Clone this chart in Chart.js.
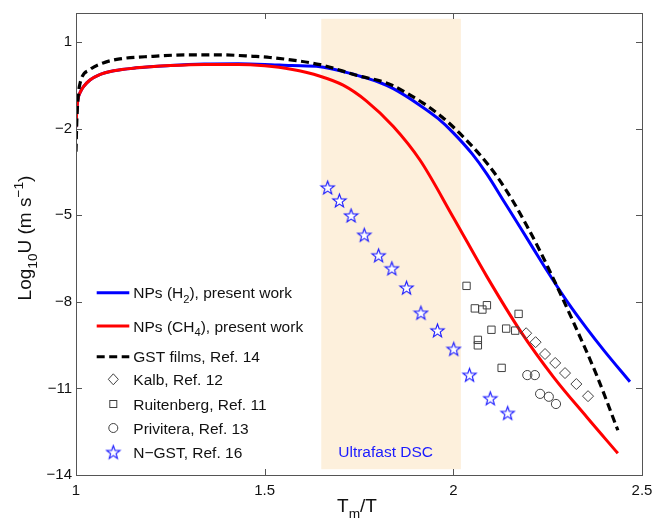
<!DOCTYPE html>
<html><head><meta charset="utf-8">
<script src="https://cdn.jsdelivr.net/npm/chart.js@4/dist/chart.umd.min.js"></script>
<style>html,body{margin:0;padding:0;background:#fff}canvas{display:block}</style>
</head><body>
<canvas id="c" width="654" height="518"></canvas>
<script>
// ---- data ----
const xTicks = [1, 1.5, 2, 2.5];
const yTicks = [-14, -11, -8, -5, -2, 1];

const h2X = [1.000, 1.002, 1.005, 1.011, 1.02, 1.037, 1.06, 1.1, 1.16, 1.25, 1.34, 1.43, 1.50, 1.57, 1.647, 1.70, 1.753, 1.80, 1.841, 1.912, 1.96, 2.0, 2.05, 2.089, 2.133, 2.177, 2.212, 2.248, 2.30, 2.354, 2.40, 2.468];
const h2Y = [-1.95, -1.4, -1.0, -0.75, -0.55, -0.32, -0.15, 0.0, 0.10, 0.18, 0.23, 0.24, 0.22, 0.18, 0.14, 0.0, -0.19, -0.38, -0.62, -1.2, -1.66, -2.15, -2.88, -3.58, -4.5, -5.42, -6.16, -6.92, -7.96, -8.93, -9.7, -10.77];

const ch4X = [1.000, 1.002, 1.005, 1.011, 1.02, 1.037, 1.06, 1.1, 1.16, 1.25, 1.34, 1.43, 1.50, 1.57, 1.647, 1.708, 1.77, 1.841, 1.912, 2.0, 2.089, 2.177, 2.265, 2.354, 2.436];
const ch4Y = [-1.95, -1.4, -1.0, -0.75, -0.55, -0.32, -0.15, 0.0, 0.10, 0.18, 0.22, 0.22, 0.17, 0.05, -0.19, -0.5, -1.05, -1.93, -3.1, -5.08, -7.13, -9.0, -10.6, -12.0, -13.25];

const gstX = [1.000, 1.002, 1.005, 1.011, 1.037, 1.072, 1.116, 1.204, 1.292, 1.38, 1.469, 1.514, 1.647, 1.753, 1.80, 1.841, 1.88, 1.92, 1.97, 2.018, 2.071, 2.115, 2.155, 2.194, 2.23, 2.256, 2.318, 2.38, 2.436];
const gstY = [-2.8, -1.8, -1.0, -0.42, 0.04, 0.27, 0.41, 0.50, 0.55, 0.55, 0.50, 0.46, 0.21, -0.19, -0.33, -0.52, -0.8, -1.12, -1.6, -2.18, -2.92, -3.65, -4.45, -5.35, -6.25, -6.95, -8.7, -10.55, -12.45];

const kalbX = [2.193, 2.218, 2.243, 2.270, 2.296, 2.326, 2.357];
const kalbY = [-9.09, -9.40, -9.81, -10.12, -10.47, -10.85, -11.27];

const ruitX = [2.035, 2.057, 2.077, 2.089, 2.173, 2.101, 2.140, 2.164, 2.065, 2.065, 2.128];
const ruitY = [-7.45, -8.23, -8.27, -8.12, -8.42, -8.97, -8.93, -9.00, -9.32, -9.51, -10.29];

const privX = [2.196, 2.216, 2.230, 2.253, 2.272];
const privY = [-10.54, -10.54, -11.19, -11.29, -11.54];

const ngstX = [1.667, 1.698, 1.729, 1.764, 1.802, 1.837, 1.876, 1.914, 1.958, 2.001, 2.043, 2.098, 2.144];
const ngstY = [-4.04, -4.49, -5.01, -5.68, -6.39, -6.84, -7.51, -8.38, -8.99, -9.63, -10.53, -11.34, -11.85];

const shadeX = [1.65, 2.02];
const shadeY = [-13.8, 1.8];
const shadeLabel = 'Ultrafast DSC';

const legendLabels = [
  [['NPs (H',0],['2',1],['), present work',0]],
  [['NPs (CH',0],['4',1],['), present work',0]],
  [['GST films, Ref. 14',0]],
  [['Kalb, Ref. 12',0]],
  [['Ruitenberg, Ref. 11',0]],
  [['Privitera, Ref. 13',0]],
  [['N\u2212GST, Ref. 16',0]]
];

// ---- helpers ----
const FONT = '"Liberation Sans", Arial, Helvetica, sans-serif';
const zip = (xs, ys) => xs.map((x, i) => ({x: x, y: ys[i]}));
const MARK = '#404040';
const STARC = '#1414ff';

function makeStar() {
  const c = document.createElement('canvas');
  c.width = 17; c.height = 17;
  const g = c.getContext('2d');
  g.beginPath();
  for (let i = 0; i < 10; i++) {
    const r = i % 2 ? 2.9 : 7.0;
    const a = -Math.PI / 2 + i * Math.PI / 5;
    const px = 8.5 + r * Math.cos(a), py = 9.2 + r * Math.sin(a);
    if (i) g.lineTo(px, py); else g.moveTo(px, py);
  }
  g.closePath();
  g.fillStyle = '#fff'; g.fill();
  g.strokeStyle = STARC; g.lineWidth = 1.1; g.stroke();
  return c;
}
const starImg = makeStar();

function drawRich(ctx, parts, x, y, size, align) {
  const widths = parts.map(p => {
    ctx.font = (p[1] ? size * 0.72 : size) + 'px ' + FONT;
    return ctx.measureText(p[0]).width;
  });
  const total = widths.reduce((a, b) => a + b, 0);
  let cx = align === 'center' ? x - total / 2 : x;
  ctx.textBaseline = 'alphabetic';
  ctx.textAlign = 'left';
  parts.forEach((p, i) => {
    ctx.font = (p[1] ? size * 0.72 : size) + 'px ' + FONT;
    let dy = 0;
    if (p[1] === 1) dy = size * 0.32;
    if (p[1] === 2) dy = -size * 0.42;
    ctx.fillText(p[0], cx, y + dy);
    cx += widths[i];
  });
}

const fmt = v => String(v).replace('-', '\u2212');

// ---- plugins ----
const shadePlugin = {
  id: 'shade',
  beforeDatasetsDraw(chart) {
    const {ctx, scales: {x, y}} = chart;
    const x0 = x.getPixelForValue(shadeX[0]), x1 = x.getPixelForValue(shadeX[1]);
    const y0 = y.getPixelForValue(shadeY[1]), y1 = y.getPixelForValue(shadeY[0]);
    ctx.save();
    ctx.fillStyle = 'rgb(253,240,220)';
    ctx.fillRect(x0, y0, x1 - x0, y1 - y0);
    ctx.fillStyle = '#1a1aff';
    ctx.font = '15.5px ' + FONT;
    ctx.textBaseline = 'middle';
    ctx.textAlign = 'left';
    ctx.fillText(shadeLabel, x0 + 17, y1 - 17);
    ctx.restore();
  }
};

const legendPlugin = {
  id: 'customLegend',
  afterDatasetsDraw(chart) {
    const {ctx, chartArea: ca} = chart;
    const rows = [279.7, 313, 343.7, 366.3, 391, 415, 439.7];
    const lx0 = ca.left + 20.7, lx1 = ca.left + 53.3, mx = ca.left + 37.3, tx = ca.left + 57.3;
    ctx.save();
    rows.forEach((ry, i) => {
      const yy = ca.top + ry;
      ctx.lineWidth = 3;
      ctx.setLineDash([]);
      if (i === 0 || i === 1 || i === 2) {
        ctx.strokeStyle = i === 0 ? '#0000ff' : (i === 1 ? '#ff0000' : '#000');
        if (i === 2) ctx.setLineDash([8, 4.5]);
        ctx.beginPath(); ctx.moveTo(lx0, yy); ctx.lineTo(lx1, yy); ctx.stroke();
        ctx.setLineDash([]);
      } else if (i === 3) {
        ctx.lineWidth = 1; ctx.strokeStyle = MARK;
        ctx.beginPath(); ctx.moveTo(mx, yy - 5.5); ctx.lineTo(mx + 5, yy); ctx.lineTo(mx, yy + 5.5); ctx.lineTo(mx - 5, yy); ctx.closePath(); ctx.stroke();
      } else if (i === 4) {
        ctx.lineWidth = 1; ctx.strokeStyle = MARK;
        ctx.strokeRect(mx - 3.5, yy - 3.5, 7, 7);
      } else if (i === 5) {
        ctx.lineWidth = 1; ctx.strokeStyle = MARK;
        ctx.beginPath(); ctx.arc(mx, yy, 4.5, 0, Math.PI * 2); ctx.stroke();
      } else {
        ctx.drawImage(starImg, mx - 8.5, yy - 9.2);
      }
      ctx.fillStyle = '#111';
      drawRich(ctx, legendLabels[i], tx, yy + 5.5, 15.5, 'left');
    });
    ctx.restore();
  }
};

const framePlugin = {
  id: 'frame',
  afterDraw(chart) {
    const {ctx, chartArea: ca, scales: {x, y}} = chart;
    ctx.save();
    ctx.strokeStyle = '#555';
    ctx.lineWidth = 1;
    ctx.strokeRect(Math.round(ca.left) + 0.5, Math.round(ca.top) + 0.5, Math.round(ca.right - ca.left), Math.round(ca.bottom - ca.top));
    const tl = 6;
    ctx.beginPath();
    xTicks.forEach(v => {
      const px = Math.round(x.getPixelForValue(v)) + 0.5;
      ctx.moveTo(px, ca.bottom); ctx.lineTo(px, ca.bottom - tl);
      ctx.moveTo(px, ca.top); ctx.lineTo(px, ca.top + tl);
    });
    yTicks.forEach(v => {
      const py = Math.round(y.getPixelForValue(v)) + 0.5;
      ctx.moveTo(ca.left, py); ctx.lineTo(ca.left + tl, py);
      ctx.moveTo(ca.right, py); ctx.lineTo(ca.right - tl, py);
    });
    ctx.stroke();
    // axis titles
    ctx.fillStyle = '#111';
    drawRich(ctx, [['T',0],['m',1],['/T',0]], (ca.left + ca.right) / 2 - 2, 511.5, 19, 'center');
    ctx.translate(31, (ca.top + ca.bottom) / 2 - 6);
    ctx.rotate(-Math.PI / 2);
    drawRich(ctx, [['Log',0],['10',1],['U (m s',0],['\u22121',2],[')',0]], 0, 0, 19, 'center');
    ctx.restore();
  }
};

// ---- chart ----
new Chart(document.getElementById('c'), {
  type: 'scatter',
  data: {
    datasets: [
      {label: 'NPs (H2), present work', data: zip(h2X, h2Y), showLine: true, borderColor: '#0000ff', borderWidth: 3, pointRadius: 0, cubicInterpolationMode: 'monotone', order: 4},
      {label: 'NPs (CH4), present work', data: zip(ch4X, ch4Y), showLine: true, borderColor: '#ff0000', borderWidth: 3, pointRadius: 0, cubicInterpolationMode: 'monotone', order: 3},
      {label: 'GST films, Ref. 14', data: zip(gstX, gstY), showLine: true, borderColor: '#000', borderWidth: 3.2, borderDash: [8, 4.5], pointRadius: 0, cubicInterpolationMode: 'monotone', order: 2},
      {label: 'Kalb, Ref. 12', data: zip(kalbX, kalbY), pointStyle: 'rectRot', pointRadius: 5.5, borderColor: MARK, borderWidth: 1, backgroundColor: 'rgba(0,0,0,0)', order: 1},
      {label: 'Ruitenberg, Ref. 11', data: zip(ruitX, ruitY), pointStyle: 'rect', pointRadius: 5.2, borderColor: MARK, borderWidth: 1, backgroundColor: 'rgba(0,0,0,0)', order: 1},
      {label: 'Privitera, Ref. 13', data: zip(privX, privY), pointStyle: 'circle', pointRadius: 4.6, borderColor: MARK, borderWidth: 1, backgroundColor: 'rgba(0,0,0,0)', order: 1},
      {label: 'N-GST, Ref. 16', data: zip(ngstX, ngstY), pointStyle: starImg, pointRadius: 7, order: 0}
    ]
  },
  options: {
    responsive: false,
    animation: false,
    devicePixelRatio: 1,
    layout: {padding: {left: 0, right: 12, top: 13, bottom: 0}},
    plugins: {legend: {display: false}, tooltip: {enabled: false}},
    elements: {line: {fill: false}},
    scales: {
      x: {
        type: 'linear', min: 1, max: 2.5,
        grid: {display: false, drawTicks: false},
        border: {display: false},
        afterBuildTicks: s => { s.ticks = xTicks.map(v => ({value: v})); },
        afterFit: s => { s.height = 43; s.paddingLeft = 0; s.paddingRight = 0; },
        ticks: {font: {family: FONT, size: 15}, color: '#111', padding: 7, maxRotation: 0, autoSkip: false, callback: v => fmt(v)}
      },
      y: {
        type: 'linear', min: -14, max: 2,
        grid: {display: false, drawTicks: false},
        border: {display: false},
        afterBuildTicks: s => { s.ticks = yTicks.map(v => ({value: v})); },
        afterFit: s => { s.width = 76; s.paddingTop = 0; s.paddingBottom = 0; },
        ticks: {font: {family: FONT, size: 15}, color: '#111', padding: 4, autoSkip: false, callback: v => fmt(v)}
      }
    }
  },
  plugins: [shadePlugin, legendPlugin, framePlugin]
});
</script>
</body></html>
